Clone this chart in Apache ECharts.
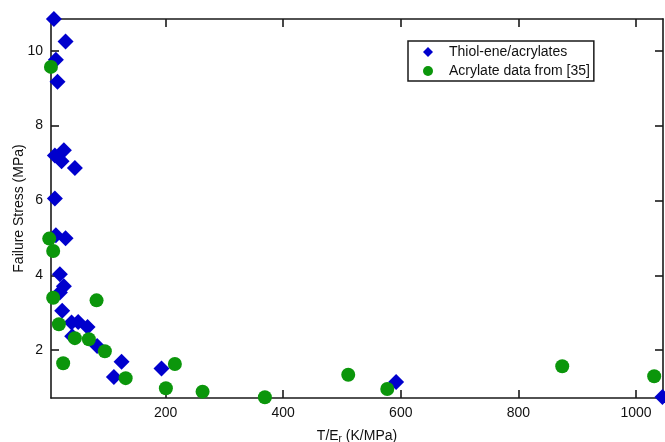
<!DOCTYPE html>
<html>
<head>
<meta charset="utf-8">
<script src="https://cdn.jsdelivr.net/npm/echarts@6/dist/echarts.min.js"></script>
<style>html,body{margin:0;padding:0;background:#fff;}#c{width:665px;height:442px;}</style>
</head>
<body>
<div id="c"></div>
<script>
// Data
var seriesNames = ['Thiol-ene/acrylates', 'Acrylate data from [35]'];
var thiolX = [9.9, 29.8, 13.3, 16.1, 11.6, 26.9, 23.0, 45.6, 11.6, 13.3, 29.8, 20.1, 26.9, 20.1, 24.0, 40.0, 51.2, 67.2, 41.0, 83.5, 112, 125, 193, 592, 1045];
var thiolY = [10.85, 10.25, 9.76, 9.17, 7.2, 7.34, 7.05, 6.87, 6.05, 5.07, 4.99, 4.03, 3.71, 3.54, 3.05, 2.74, 2.75, 2.62, 2.37, 2.11, 1.28, 1.69, 1.51, 1.15, 0.75];
var acrylX = [4.9, 2, 8.7, 8.7, 18.4, 82.5, 45.6, 69.4, 96.6, 25.7, 132, 215.7, 200.4, 262.8, 368.8, 510.6, 577, 874.6, 1031];
var acrylY = [9.57, 4.98, 4.65, 3.4, 2.69, 3.33, 2.32, 2.29, 1.97, 1.65, 1.25, 1.63, 0.98, 0.89, 0.74, 1.34, 0.96, 1.57, 1.3];
var xTicks = [200, 400, 600, 800, 1000];
var yTicks = [2, 4, 6, 8, 10];
var xRange = [5, 1046];
var yRange = [0.72, 10.85];

function pairs(xs, ys) { return xs.map(function (x, i) { return [x, ys[i]]; }); }

var axisColor = '#1a1a1a';
var font = 'Liberation Sans, Arial, sans-serif';

function valueAxis(ticks, range, showLabels, extra) {
  var a = {
    type: 'value',
    min: range[0],
    max: range[1],
    splitLine: { show: false },
    axisLine: { show: true, onZero: false, lineStyle: { color: axisColor, width: 1.6 } },
    axisTick: { show: true, inside: true, length: 8, customValues: ticks, lineStyle: { color: axisColor, width: 1.6 } },
    axisLabel: showLabels ? {
      show: true, customValues: ticks, color: '#111', fontSize: 14, fontFamily: font, margin: 8,
      formatter: function (v) { return String(v); }
    } : { show: false }
  };
  for (var k in extra) a[k] = extra[k];
  return a;
}

var chart = echarts.init(document.getElementById('c'), null, { renderer: 'canvas' });
chart.setOption({
  animation: false,
  backgroundColor: '#fff',
  grid: { left: 51, top: 19, width: 612, height: 379, containLabel: false, outerBoundsMode: 'none' },
  xAxis: [
    valueAxis(xTicks, xRange, true, {
      position: 'bottom',
      name: 'T/E{sub|r} (K/MPa)',
      nameLocation: 'middle',
      nameGap: 31,
      nameMoveOverlap: false,
      nameTextStyle: { color: '#111', fontSize: 14, fontFamily: font, rich: { sub: { fontSize: 10, fontFamily: font, color: '#111', padding: [5, 0, 0, 0] } } }
    }),
    valueAxis(xTicks, xRange, false, { position: 'top' })
  ],
  yAxis: [
    valueAxis(yTicks, yRange, true, {
      position: 'left',
      name: 'Failure Stress (MPa)',
      nameLocation: 'middle',
      nameGap: 25,
      nameMoveOverlap: false,
      nameTextStyle: { color: '#111', fontSize: 14, fontFamily: font }
    }),
    valueAxis(yTicks, yRange, false, { position: 'right' })
  ],
  legend: {
    left: 408,
    top: 41,
    orient: 'vertical',
    itemWidth: 10,
    itemHeight: 10,
    itemGap: 5,
    padding: [4, 4, 3, 15],
    borderColor: '#1a1a1a',
    borderWidth: 1.5,
    borderRadius: 0,
    textStyle: { color: '#111', fontSize: 14, fontFamily: font, lineHeight: 14, padding: [0, 0, 0, 11] },
    data: [
      { name: seriesNames[0], icon: 'diamond' },
      { name: seriesNames[1], icon: 'circle' }
    ]
  },
  series: [
    {
      name: seriesNames[0],
      type: 'scatter',
      symbol: 'diamond',
      symbolSize: 16,
      clip: false,
      itemStyle: { color: '#0000cd', opacity: 1 },
      data: pairs(thiolX, thiolY)
    },
    {
      name: seriesNames[1],
      type: 'scatter',
      symbol: 'circle',
      symbolSize: 14,
      clip: false,
      itemStyle: { color: '#0b960b', opacity: 1 },
      data: pairs(acrylX, acrylY)
    }
  ]
});
</script>
</body>
</html>
